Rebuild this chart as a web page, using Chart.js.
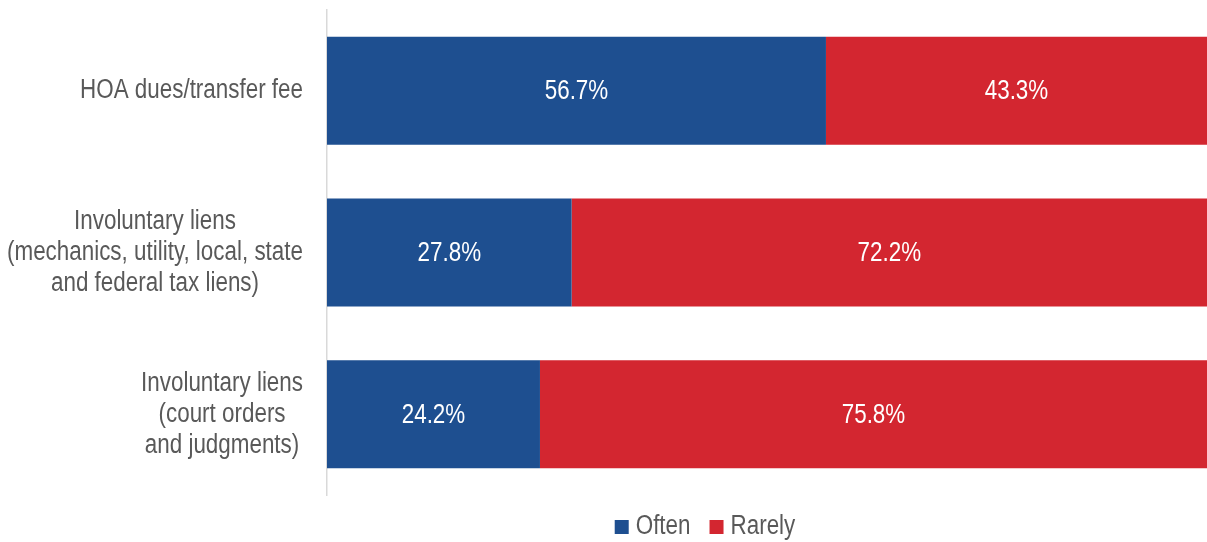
<!DOCTYPE html>
<html>
<head>
<meta charset="utf-8">
<script src="https://cdn.jsdelivr.net/npm/chart.js@4/dist/chart.umd.min.js"></script>
<style>
  html, body { margin: 0; padding: 0; background: #fff; }
  #wrap { width: 1207px; height: 542px; position: relative; }
</style>
</head>
<body>
<div id="wrap"><canvas id="Graph_Liens"></canvas></div>
<script>
// categories (multi-line) and the two shares per category
const categories = [
    ["HOA dues/transfer fee"],
    ["Involuntary liens", "(mechanics, utility, local, state", "and federal tax liens)"],
    ["Involuntary liens", "(court orders", "and judgments)"]
];
const seriesNames = ["Often", "Rarely"];
const oftenValues = [56.7, 27.8, 24.2];
const rarelyValues = [43.3, 72.2, 75.8];

const FONT = "27px 'Liberation Sans', Arial, sans-serif";
const SQUEEZE = 0.83; // condensed look, no narrow face installed
const BLUE = "#1e4f90";
const RED = "#d32630";
const GREY_TEXT = "#595959";

function textWidth(ctx, s) {
    return ctx.measureText(s).width * SQUEEZE;
}

function narrowText(ctx, s, x, y, align) {
    ctx.save();
    ctx.translate(x, y);
    ctx.scale(SQUEEZE, 1);
    ctx.textAlign = align;
    ctx.fillText(s, 0, 0);
    ctx.restore();
}

// category labels: each block right aligned to the axis, lines centered within the block
const categoryLabels = {
    id: "categoryLabels",
    afterDraw(chart) {
        const ctx = chart.ctx;
        const yScale = chart.scales.y;
        const area = chart.chartArea;
        ctx.save();
        ctx.font = FONT;
        ctx.fillStyle = GREY_TEXT;
        ctx.textBaseline = "middle";
        const lineH = 31;
        categories.forEach((lines, i) => {
            const yc = yScale.getPixelForValue(i);
            let w = 0;
            lines.forEach(l => { w = Math.max(w, textWidth(ctx, l)); });
            const xc = area.left - 24 - w / 2;
            const y0 = yc - (lines.length - 1) * lineH / 2;
            lines.forEach((l, k) => narrowText(ctx, l, xc, y0 + k * lineH, "center"));
        });
        ctx.restore();
    }
};

// percentage printed in the middle of each segment
const segmentLabels = {
    id: "segmentLabels",
    afterDatasetsDraw(chart) {
        const ctx = chart.ctx;
        ctx.save();
        ctx.font = FONT;
        ctx.fillStyle = "#ffffff";
        ctx.textBaseline = "middle";
        chart.data.datasets.forEach((ds, di) => {
            const meta = chart.getDatasetMeta(di);
            meta.data.forEach((bar, i) => {
                const x = (bar.x + bar.base) / 2;
                narrowText(ctx, ds.data[i].toFixed(1) + "%", x, bar.y + 1, "center");
            });
        });
        ctx.restore();
    }
};

// legend under the plot
const bottomLegend = {
    id: "bottomLegend",
    afterDraw(chart) {
        const ctx = chart.ctx;
        ctx.save();
        ctx.font = FONT;
        ctx.textBaseline = "middle";
        const box = 14, gapText = 7, gapItem = 19;
        const items = chart.data.datasets.map(ds => ({ text: ds.label, color: ds.backgroundColor }));
        let total = 0;
        items.forEach((it, i) => {
            it.w = textWidth(ctx, it.text);
            total += box + gapText + it.w + (i < items.length - 1 ? gapItem : 0);
        });
        const cy = 527;
        let x = 705 - total / 2;
        items.forEach(it => {
            ctx.fillStyle = it.color;
            ctx.fillRect(x, cy - box / 2, box, box);
            x += box + gapText;
            ctx.fillStyle = GREY_TEXT;
            narrowText(ctx, it.text, x, cy, "left");
            x += it.w + gapItem;
        });
        ctx.restore();
    }
};

const ctx = document.getElementById("Graph_Liens").getContext("2d");
const graph = new Chart(ctx, {
    type: "bar",
    data: {
        labels: categories,
        datasets: [
            { label: seriesNames[0], data: oftenValues, backgroundColor: BLUE, borderWidth: 0 },
            { label: seriesNames[1], data: rarelyValues, backgroundColor: RED, borderWidth: 0 }
        ]
    },
    options: {
        indexAxis: "y",
        responsive: true,
        maintainAspectRatio: false,
        animation: false,
        layout: { padding: { top: 10, bottom: 47, left: 0, right: 0 } },
        datasets: {
            bar: { barPercentage: 0.668, categoryPercentage: 1 }
        },
        scales: {
            x: {
                stacked: true,
                min: 0,
                max: 100,
                display: false
            },
            y: {
                stacked: true,
                grid: { display: false, drawTicks: false },
                border: { display: true, color: "#d9d9d9", width: 1.5 },
                ticks: { display: false },
                afterFit(scale) { scale.width = 327; }
            }
        },
        plugins: {
            legend: { display: false },
            tooltip: { enabled: false }
        }
    },
    plugins: [categoryLabels, segmentLabels, bottomLegend]
});
</script>
</body>
</html>
